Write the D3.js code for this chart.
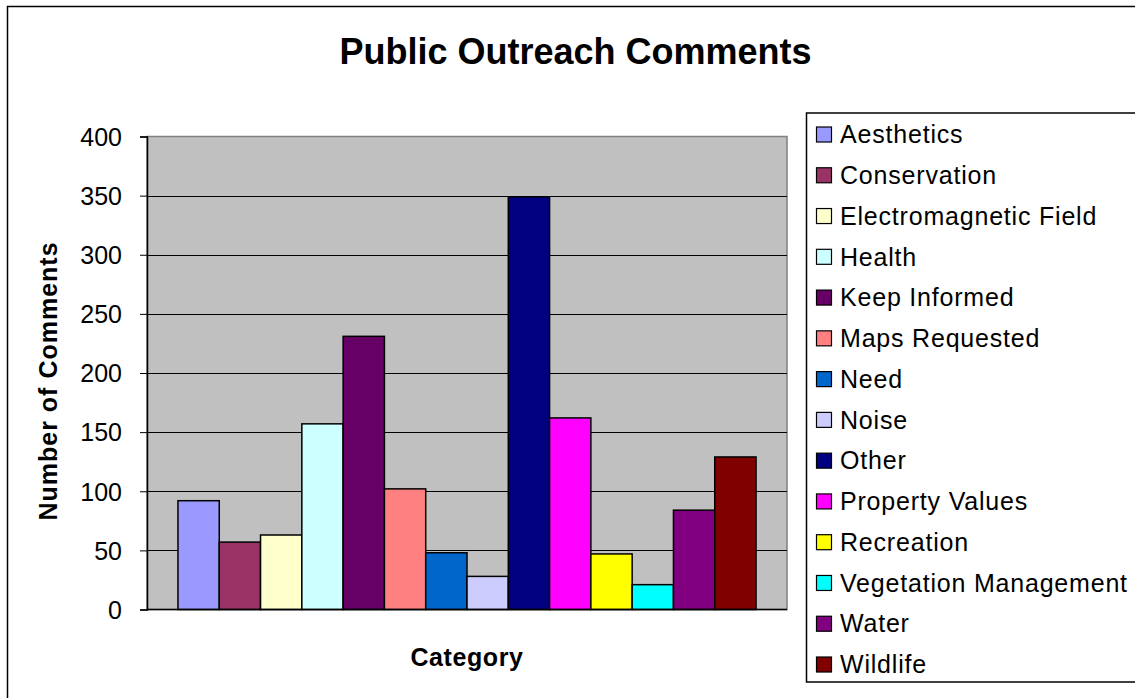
<!DOCTYPE html>
<html>
<head>
<meta charset="utf-8">
<script src="https://cdn.jsdelivr.net/npm/d3@7"></script>
<style>
  body { margin: 0; background: #fff; }
  text { font-family: "Liberation Sans", Arial, sans-serif; }
</style>
</head>
<body>
<div id="chart"></div>
<script>
// categories / series (one series per comment type, single category group)
var names = ["Aesthetics", "Conservation", "Electromagnetic Field", "Health", "Keep Informed",
  "Maps Requested", "Need", "Noise", "Other", "Property Values", "Recreation",
  "Vegetation Management", "Water", "Wildlife"];
var counts = [92, 57, 63, 157, 231, 102, 48, 28, 349, 162, 47, 21, 84, 129];
var colors = ["#9999FF", "#993366", "#FFFFCC", "#CCFFFF", "#660066", "#FF8080", "#0066CC",
  "#CCCCFF", "#000080", "#FF00FF", "#FFFF00", "#00FFFF", "#800080", "#800000"];
var yTicks = [0, 50, 100, 150, 200, 250, 300, 350, 400];

var W = 1135, H = 698;
var plot = {left: 147, right: 787, top: 136.5, bottom: 609.5};

var svg = d3.select('#chart').append('svg').attr('width', W).attr('height', H);

// cadre exterieur du graphique
svg.append('rect').attr('x', 7.5).attr('y', 6.5).attr('width', W + 10).attr('height', H + 10)
  .style('fill', '#fff').style('stroke', '#000').style('stroke-width', 1.5);

// echelles
var y = d3.scaleLinear().domain([0, 400]).range([plot.bottom, plot.top]);
// groupe unique : 14 barres, ecart de 150% de la largeur d'une barre
var gw = (plot.right - plot.left) * 14 / 15.5;
var gx = plot.left + ((plot.right - plot.left) - gw) / 2;
var x = d3.scaleBand().domain(names).range([gx, gx + gw]).padding(0);

// zone de trace
svg.append('rect').attr('x', plot.left).attr('y', plot.top)
  .attr('width', plot.right - plot.left).attr('height', plot.bottom - plot.top)
  .style('fill', '#C0C0C0').style('stroke', '#808080').style('stroke-width', 1.5);

// quadrillage
svg.append('g').selectAll('line').data(yTicks.filter(function(d){ return d > 0 && d < 400; }))
  .enter().append('line')
  .attr('x1', plot.left).attr('x2', plot.right)
  .attr('y1', function(d){ return Math.round(y(d)) + 0.5; })
  .attr('y2', function(d){ return Math.round(y(d)) + 0.5; })
  .style('stroke', '#000').style('stroke-width', 1);

// barres
svg.append('g').selectAll('rect').data(names).enter().append('rect')
  .attr('x', function(d){ return x(d); })
  .attr('y', function(d, i){ return y(counts[i]); })
  .attr('width', x.bandwidth())
  .attr('height', function(d, i){ return y(0) - y(counts[i]); })
  .style('fill', function(d, i){ return colors[i]; })
  .style('stroke', '#000').style('stroke-width', 1.5);

// axe Y
var yAxis = d3.axisLeft(y).tickValues(yTicks).tickSize(7).tickPadding(18);
var gy = svg.append('g').attr('transform', 'translate(' + plot.left + ',0)').call(yAxis);
gy.select('.domain').style('stroke', '#000').style('stroke-width', 1.5);
gy.selectAll('.tick line').style('stroke', '#000');
gy.selectAll('.tick text').style('font-size', '25px').style('fill', '#000')
  .style('font-family', '"Liberation Sans", Arial, sans-serif').attr('dy', '0.35em');

// axe X (ligne seulement)
svg.append('line').attr('x1', plot.left).attr('x2', plot.right)
  .attr('y1', plot.bottom).attr('y2', plot.bottom)
  .style('stroke', '#000').style('stroke-width', 1.5);

// titres
svg.append('text').attr('x', 575.5).attr('y', 64).attr('text-anchor', 'middle')
  .style('font-size', '36px').style('font-weight', 'bold').text('Public Outreach Comments');
svg.append('text').attr('x', (plot.left + plot.right) / 2).attr('y', 666).attr('text-anchor', 'middle')
  .style('font-size', '25px').style('font-weight', 'bold').style('letter-spacing', '0.6px').text('Category');
svg.append('text').attr('transform', 'translate(57,381) rotate(-90)').attr('text-anchor', 'middle')
  .style('font-size', '25px').style('font-weight', 'bold').style('letter-spacing', '1px').text('Number of Comments');

// legende
var leg = svg.append('g');
leg.append('rect').attr('x', 806.5).attr('y', 113).attr('width', 340).attr('height', 569)
  .style('fill', '#fff').style('stroke', '#000').style('stroke-width', 1.5);
var items = leg.selectAll('g.item').data(names).enter().append('g').attr('class', 'item')
  .attr('transform', function(d, i){ return 'translate(0,' + (134.5 + i * 40.77) + ')'; });
items.append('rect').attr('x', 816.5).attr('y', -7.5).attr('width', 15).attr('height', 15)
  .style('fill', function(d, i){ return colors[i]; })
  .style('stroke', '#000').style('stroke-width', 1.2);
items.append('text').attr('x', 840).attr('y', 0).attr('dy', '0.35em')
  .style('font-size', '25px').style('letter-spacing', '0.8px').text(function(d){ return d; });
</script>
</body>
</html>
